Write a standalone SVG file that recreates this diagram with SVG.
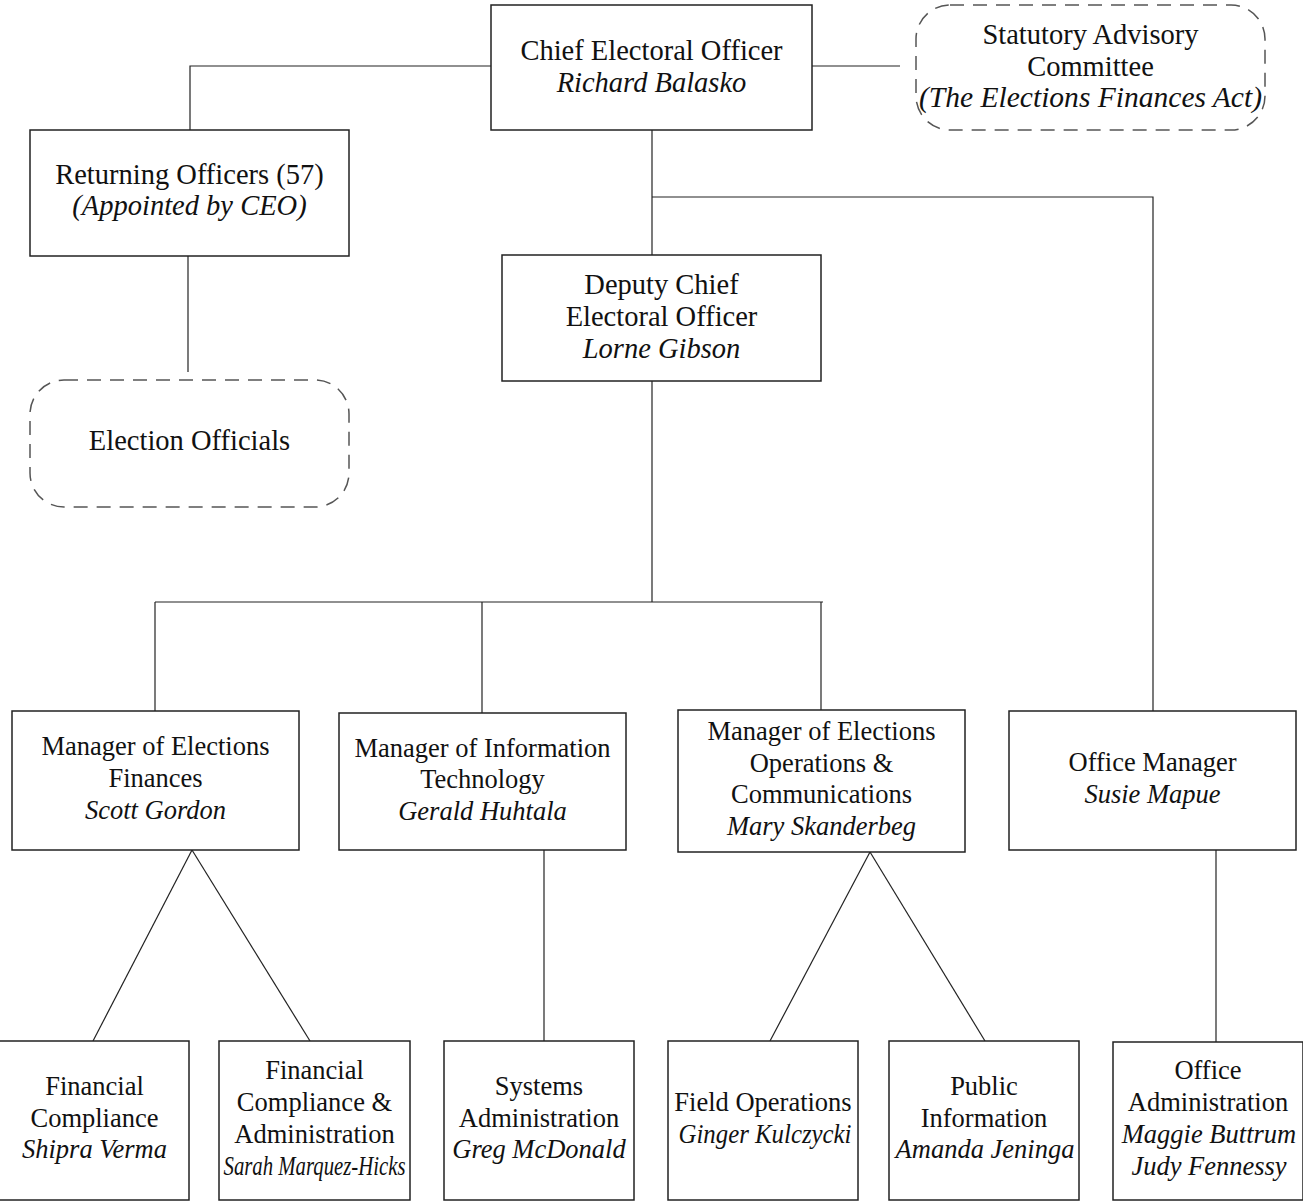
<svg xmlns="http://www.w3.org/2000/svg" width="1303" height="1203" viewBox="0 0 1303 1203">
<style>
text{font-family:"Liberation Serif","Times New Roman",serif;fill:#111;text-anchor:middle}
.t{font-size:28.5px}
.m{font-size:26.5px}
.i{font-style:italic}
.box{fill:#fff;stroke:#222;stroke-width:1.5}
.dash{fill:#fff;stroke:#555;stroke-width:1.5;stroke-dasharray:14 9}
.conn line,.conn polyline{stroke:#222;stroke-width:1.2;fill:none}
</style>
<rect width="1303" height="1203" fill="#fff"/>
<g class="conn">
<polyline points="491,66 190,66 190,130"/>
<line x1="812" y1="66" x2="900" y2="66"/>
<line x1="652" y1="130" x2="652" y2="255"/>
<polyline points="652,197 1153,197 1153,711"/>
<line x1="188" y1="256" x2="188" y2="372"/>
<line x1="652" y1="381" x2="652" y2="602"/>
<line x1="155" y1="602" x2="823" y2="602"/>
<line x1="155" y1="602" x2="155" y2="711"/>
<line x1="482" y1="602" x2="482" y2="713"/>
<line x1="821" y1="602" x2="821" y2="710"/>
<line x1="192" y1="850" x2="93" y2="1041"/>
<line x1="192" y1="850" x2="310" y2="1041"/>
<line x1="544" y1="850" x2="544" y2="1041"/>
<line x1="870" y1="852" x2="770" y2="1041"/>
<line x1="870" y1="852" x2="985" y2="1041"/>
<line x1="1216" y1="850" x2="1216" y2="1042"/>
</g>
<g id="ceo"><rect class="box" x="491" y="5" width="321" height="125"/>
<text class="t" x="651.5" y="60">Chief Electoral Officer</text>
<text class="t i" x="651.5" y="92">Richard Balasko</text></g>
<g id="advisory"><rect class="dash" x="916" y="5" width="349" height="125" rx="34"/>
<text class="t" x="1090.5" y="44">Statutory Advisory</text>
<text class="t" x="1090.5" y="76">Committee</text>
<text class="t i" x="1090.5" y="107" textLength="343" lengthAdjust="spacingAndGlyphs">(The Elections Finances Act)</text></g>
<g id="returning"><rect class="box" x="30" y="130" width="319" height="126"/>
<text class="t" x="189.5" y="184">Returning Officers (57)</text>
<text class="t i" x="189.5" y="215">(Appointed by CEO)</text></g>
<g id="officials"><rect class="dash" x="30" y="380" width="319" height="127" rx="34"/>
<text class="t" x="189.5" y="450">Election Officials</text></g>
<g id="deputy"><rect class="box" x="502" y="255" width="319" height="126"/>
<text class="t" x="661.5" y="294">Deputy Chief</text>
<text class="t" x="661.5" y="326">Electoral Officer</text>
<text class="t i" x="661.5" y="358">Lorne Gibson</text></g>
<g id="mef"><rect class="box" x="12" y="711" width="287" height="139"/>
<text class="m" x="155.5" y="755">Manager of Elections</text>
<text class="m" x="155.5" y="787">Finances</text>
<text class="m i" x="155.5" y="819">Scott Gordon</text></g>
<g id="mit"><rect class="box" x="339" y="713" width="287" height="137"/>
<text class="m" x="482.5" y="757">Manager of Information</text>
<text class="m" x="482.5" y="788">Technology</text>
<text class="m i" x="482.5" y="820">Gerald Huhtala</text></g>
<g id="meoc"><rect class="box" x="678" y="710" width="287" height="142"/>
<text class="m" x="821.5" y="740">Manager of Elections</text>
<text class="m" x="821.5" y="772">Operations &amp;</text>
<text class="m" x="821.5" y="803">Communications</text>
<text class="m i" x="821.5" y="835">Mary Skanderbeg</text></g>
<g id="om"><rect class="box" x="1009" y="711" width="287" height="139"/>
<text class="m" x="1152.5" y="771">Office Manager</text>
<text class="m i" x="1152.5" y="803">Susie Mapue</text></g>
<g id="fc"><rect class="box" x="-1" y="1041" width="190" height="159"/>
<text class="m" x="94.5" y="1095">Financial</text>
<text class="m" x="94.5" y="1127">Compliance</text>
<text class="m i" x="94.5" y="1158">Shipra Verma</text></g>
<g id="fca"><rect class="box" x="219" y="1041" width="191" height="159"/>
<text class="m" x="314.5" y="1079">Financial</text>
<text class="m" x="314.5" y="1111">Compliance &amp;</text>
<text class="m" x="314.5" y="1143">Administration</text>
<text class="m i" x="314.5" y="1175" textLength="182" lengthAdjust="spacingAndGlyphs">Sarah Marquez-Hicks</text></g>
<g id="sa"><rect class="box" x="444" y="1041" width="190" height="159"/>
<text class="m" x="539" y="1095">Systems</text>
<text class="m" x="539" y="1127">Administration</text>
<text class="m i" x="539" y="1158">Greg McDonald</text></g>
<g id="fo"><rect class="box" x="668" y="1041" width="190" height="159"/>
<text class="m" x="763" y="1111">Field Operations</text>
<text class="m i" x="765" y="1143" textLength="173" lengthAdjust="spacingAndGlyphs">Ginger Kulczycki</text></g>
<g id="pi"><rect class="box" x="889" y="1041" width="190" height="159"/>
<text class="m" x="984" y="1095">Public</text>
<text class="m" x="984" y="1127">Information</text>
<text class="m i" x="985" y="1158">Amanda Jeninga</text></g>
<g id="oa"><rect class="box" x="1113" y="1042" width="190" height="158"/>
<text class="m" x="1208" y="1079">Office</text>
<text class="m" x="1208" y="1111">Administration</text>
<text class="m i" x="1209" y="1143">Maggie Buttrum</text>
<text class="m i" x="1209" y="1175">Judy Fennessy</text></g>
</svg>
